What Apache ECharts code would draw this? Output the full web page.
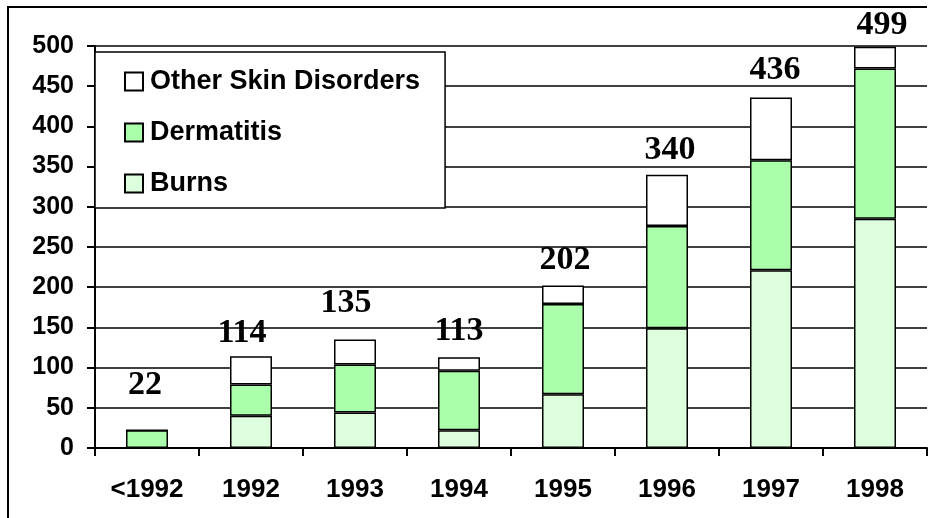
<!DOCTYPE html>
<html>
<head>
<meta charset="utf-8">
<script src="https://cdn.jsdelivr.net/npm/echarts@6/dist/echarts.min.js"></script>
<style>
  html, body { margin: 0; padding: 0; background: #fff; }
  #chart { width: 933px; height: 518px; }
</style>
</head>
<body>
<div id="chart"></div>
<script>
// categories + values
var years = ['<1992', '1992', '1993', '1994', '1995', '1996', '1997', '1998'];
var burns = [0, 40, 44, 22, 67, 149, 221, 285];
var dermatitis = [22, 39, 60, 74, 112, 127, 137, 187];
var other = [0, 35, 31, 17, 23, 64, 78, 27];
var totals = [22, 114, 135, 113, 202, 340, 436, 499];
var yTicks = [0, 50, 100, 150, 200, 250, 300, 350, 400, 450, 500];

// label nudges (the original labels were placed by hand)
var labelNudge = [[-2, 22], [-9, 0], [-9, 13], [0, 3], [2, 2], [3, 1], [4, 4], [7, -1]];

var chart = echarts.init(document.getElementById('chart'));

var barStyle = function (c) {
  return { color: c, borderColor: '#000', borderWidth: 1.5 };
};

var totalData = totals.map(function (v, i) {
  return {
    value: v,
    label: { offset: [labelNudge[i][0], -labelNudge[i][1]] }
  };
});

var option = {
  animation: false,
  backgroundColor: '#fff',
  grid: { left: 95, right: 6, top: 46, bottom: 70, containLabel: false },
  legend: {
    data: ['Other Skin Disorders', 'Dermatitis', 'Burns'],
    orient: 'vertical',
    left: 95,
    top: 52,
    padding: [16, 25, 11, 29],
    itemGap: 24,
    itemWidth: 18,
    itemHeight: 18,
    backgroundColor: '#fff',
    borderColor: '#000',
    borderWidth: 1.5,
    icon: 'rect',
    selectedMode: false,
    textStyle: {
      fontFamily: 'Liberation Sans',
      fontWeight: 'bold',
      fontSize: 27,
      color: '#000',
      padding: [0, 0, 0, 2]
    }
  },
  xAxis: {
    type: 'category',
    data: years,
    axisLine: { lineStyle: { color: '#000', width: 2 } },
    axisTick: { show: true, length: 8, lineStyle: { color: '#000', width: 2 } },
    axisLabel: {
      margin: 29,
      fontFamily: 'Liberation Sans',
      fontWeight: 'bold',
      fontSize: 26,
      color: '#000'
    }
  },
  yAxis: {
    type: 'value',
    min: yTicks[0],
    max: yTicks[yTicks.length - 1],
    interval: 50,
    axisLine: { show: true, lineStyle: { color: '#000', width: 2 } },
    axisTick: { show: true, length: 8, lineStyle: { color: '#000', width: 2 } },
    splitLine: { show: true, lineStyle: { color: '#000', width: 1.5 } },
    axisLabel: {
      margin: 21,
      fontFamily: 'Liberation Sans',
      fontWeight: 'bold',
      fontSize: 25,
      color: '#000'
    }
  },
  series: [
    {
      name: 'Burns', type: 'bar', stack: 'all', barWidth: 42,
      itemStyle: barStyle('#DDFFDD'), data: burns
    },
    {
      name: 'Dermatitis', type: 'bar', stack: 'all', barWidth: 42,
      itemStyle: barStyle('#AAFFAA'), data: dermatitis
    },
    {
      name: 'Other Skin Disorders', type: 'bar', stack: 'all', barWidth: 42,
      itemStyle: barStyle('#FFFFFF'), data: other
    },
    {
      name: 'total', type: 'scatter', symbolSize: 0, silent: true,
      data: totalData,
      itemStyle: { color: '#000', opacity: 1 },
      label: {
        show: true,
        position: 'top',
        distance: 6,
        fontFamily: 'Liberation Serif',
        fontWeight: 'bold',
        fontSize: 34,
        color: '#000'
      },
      z: 5
    }
  ],
  graphic: [
    {
      type: 'polyline',
      shape: { points: [[8, 540], [8, 7], [927, 7]] },
      style: { stroke: '#000', lineWidth: 2, fill: null },
      silent: true
    }
  ]
};

chart.setOption(option);
</script>
</body>
</html>
